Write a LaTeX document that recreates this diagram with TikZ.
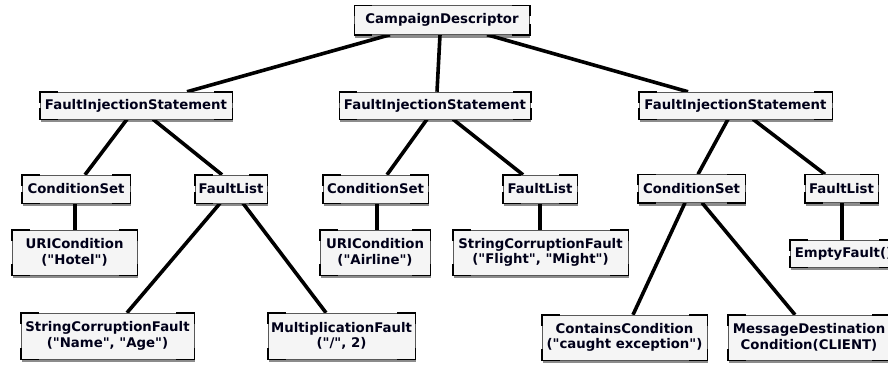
\documentclass[tikz,border=0pt]{standalone}
\usepackage{fontspec}
\setmainfont{DejaVu Sans}[Ligatures=TeXOff]
\usetikzlibrary{shadows,backgrounds}
\tikzset{
  box/.style={draw=gray!70!black, line width=0.5pt, fill=gray!8, align=center,
    inner sep=0pt, font=\fontsize{13.3}{15.5}\selectfont\bfseries, text=black!90!blue,
    drop shadow={shadow xshift=0.6pt, shadow yshift=-3pt, opacity=0.45, fill=black}},
  edge/.style={line width=3.6pt, black},
  cornermark/.style={line width=1.5pt, black}
}
\begin{document}
\begin{tikzpicture}[x=1pt,y=-1pt]
\useasboundingbox (0,0) rectangle (888,365);
\node[box, minimum width=175pt, minimum height=29pt] (cd) at (442,20) {CampaignDescriptor};
\node[box, minimum width=192pt, minimum height=27pt] (fisl) at (136,105.5) {FaultInjectionStatement};
\node[box, minimum width=191pt, minimum height=27pt] (fism) at (435,105.5) {FaultInjectionStatement};
\node[box, minimum width=193pt, minimum height=27pt] (fisr) at (735.5,105.5) {FaultInjectionStatement};
\node[box, minimum width=108pt, minimum height=28pt] (csl) at (76,189) {ConditionSet};
\node[box, minimum width=72pt, minimum height=28pt] (fll) at (231,189) {FaultList};
\node[box, minimum width=125pt, minimum height=45pt] (urih) at (74.5,252.5) {URICondition\\("Hotel")};
\node[box, minimum width=173pt, minimum height=46pt] (scfa) at (107.5,336) {StringCorruptionFault\\("Name", "Age")};
\node[box, minimum width=147pt, minimum height=46pt] (mf) at (341.5,336) {MultiplicationFault\\("/", 2)};
\node[box, minimum width=105pt, minimum height=28pt] (csm) at (375.5,189) {ConditionSet};
\node[box, minimum width=74pt, minimum height=28pt] (flm) at (540,189) {FaultList};
\node[box, minimum width=110pt, minimum height=45pt] (uria) at (375,252.5) {URICondition\\("Airline")};
\node[box, minimum width=175pt, minimum height=45pt] (scfb) at (540.5,252.5) {StringCorruptionFault\\("Flight", "Might")};
\node[box, minimum width=107pt, minimum height=28pt] (csr) at (691.5,188.5) {ConditionSet};
\node[box, minimum width=73pt, minimum height=28pt] (flr) at (841.5,188.5) {FaultList};
\node[box, minimum width=107pt, minimum height=27pt] (ef) at (843.5,253.5) {EmptyFault()};
\node[box, minimum width=165pt, minimum height=45pt] (cc) at (624.5,337.5) {ContainsCondition\\("caught exception")};
\node[box, minimum width=162pt, minimum height=45pt] (md) at (809,337.5) {MessageDestination\\Condition(CLIENT)};
\foreach \n in {cd,fisl,fism,fisr,csl,fll,urih,scfa,mf,csm,flm,uria,scfb,csr,flr,ef,cc,md} {
  \draw[cornermark] ([yshift=-11pt]\n.north west) -- (\n.north west) -- ([xshift=18pt]\n.north west);
  \draw[cornermark] ([yshift=-11pt]\n.north east) -- (\n.north east) -- ([xshift=-18pt]\n.north east);
  \draw[cornermark] ([yshift=11pt]\n.south west) -- (\n.south west) -- ([xshift=18pt]\n.south west);
  \draw[cornermark] ([yshift=11pt]\n.south east) -- (\n.south east) -- ([xshift=-18pt]\n.south east);
}
\begin{scope}[on background layer]
\draw[edge] ([xshift=-52pt]cd.south) -- ([xshift=51pt]fisl.north);
\draw[edge] ([xshift=-2pt]cd.south) -- ([xshift=2pt]fism.north);
\draw[edge] ([xshift=45pt]cd.south) -- ([xshift=-47.5pt]fisr.north);
\draw[edge] ([xshift=-9pt]fisl.south) -- ([xshift=9pt]csl.north);
\draw[edge] ([xshift=17pt]fisl.south) -- ([xshift=-9pt]fll.north);
\draw[edge] ([xshift=-1pt]csl.south) -- ([xshift=0.5pt]urih.north);
\draw[edge] ([xshift=-11pt]fll.south) -- ([xshift=19.5pt]scfa.north);
\draw[edge] ([xshift=12pt]fll.south) -- ([xshift=-15.5pt]mf.north);
\draw[edge] ([xshift=-8pt]fism.south) -- ([xshift=11.5pt]csm.north);
\draw[edge] ([xshift=18pt]fism.south) -- ([xshift=-17pt]flm.north);
\draw[edge] ([xshift=1.5pt]csm.south) -- ([xshift=2pt]uria.north);
\draw[edge] (flm.south) -- ([xshift=-0.5pt]scfb.north);
\draw[edge] ([xshift=-7.5pt]fisr.south) -- ([xshift=6.5pt]csr.north);
\draw[edge] ([xshift=17.5pt]fisr.south) -- ([xshift=-16.5pt]flr.north);
\draw[edge] ([xshift=0.5pt]flr.south) -- ([xshift=-1.5pt]ef.north);
\draw[edge] ([xshift=-6.5pt]csr.south) -- ([xshift=8.5pt]cc.north);
\draw[edge] ([xshift=10.5pt]csr.south) -- ([xshift=-14pt]md.north);
\end{scope}
\end{tikzpicture}
\end{document}
